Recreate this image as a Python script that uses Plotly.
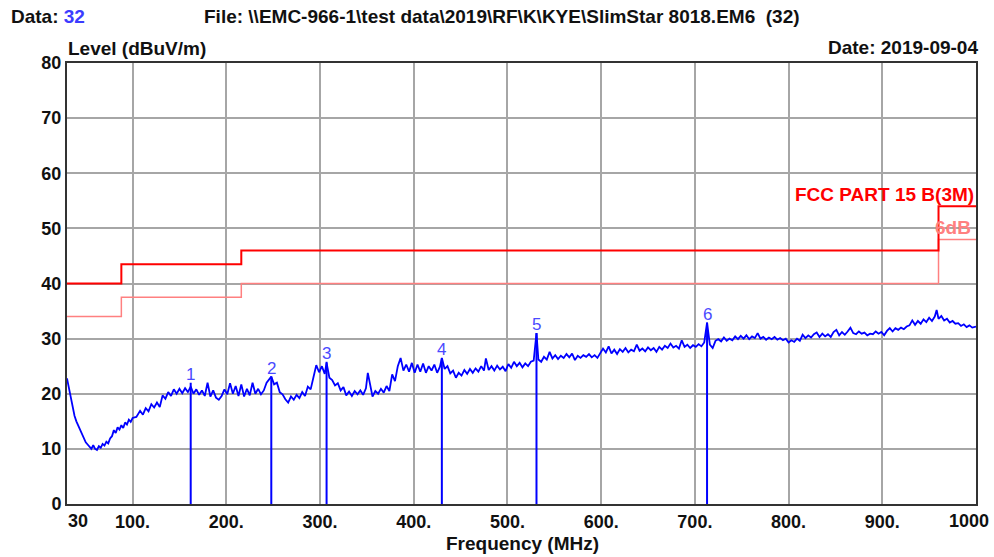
import plotly.graph_objects as go

# ---------------- data ----------------
freq_mhz = [30, 32, 34, 36, 38, 40, 42, 44, 46, 48, 50, 52, 54, 56, 58, 60, 62, 64, 66, 68,
            70, 72, 74, 76, 78, 80, 82, 84, 86, 88, 90, 92, 94, 96, 98, 100,
            104, 108, 111, 114, 117, 120, 123, 126, 129, 132, 135, 138, 141, 144, 147, 150,
            153, 156, 159, 162, 165, 168, 171, 174, 177, 180, 183, 186, 189, 192, 195, 198,
            201, 204, 207, 210, 213, 216, 219, 222, 225, 228, 231, 234, 237, 240, 243, 246,
            248, 251, 254, 257, 260, 263, 266, 269, 272, 275, 278, 281, 284, 287, 290, 293,
            296, 299, 302, 305, 307, 310, 313, 316, 319, 322, 325, 328, 331, 334, 337, 340,
            343, 346, 349, 351, 353, 356, 359, 362, 365, 368, 371, 374, 377, 380, 383, 386,
            389, 392, 395, 398, 401, 404, 407, 410, 413, 416, 419, 422, 425, 428, 430, 433,
            436, 439, 442, 445, 448, 451, 454, 457, 460, 463, 466, 469, 472, 475, 477, 480,
            483, 486, 489, 492, 495, 498, 501, 504, 507, 510, 513, 516, 519, 522, 525, 528,
            531, 533, 536, 539, 542, 545, 548, 551, 554, 557, 560, 563, 566, 569, 572, 575,
            578, 581, 584, 587, 590, 593, 596, 599, 602, 605, 608, 611, 614, 617, 620, 623,
            626, 629, 632, 635, 638, 641, 644, 647, 650, 653, 656, 659, 662, 665, 668, 671,
            674, 677, 680, 683, 686, 689, 692, 695, 698, 701, 704, 707, 710, 713, 716, 719,
            722, 725, 728, 731, 734, 737, 740, 743, 746, 749, 752, 755, 758, 761, 764, 767,
            770, 773, 776, 779, 782, 785, 788, 791, 794, 797, 800, 803, 806, 809, 812, 815,
            818, 821, 824, 827, 830, 833, 836, 839, 842, 845, 848, 851, 854, 857, 860, 863,
            866, 869, 872, 875, 878, 881, 884, 887, 890, 893, 896, 899, 902, 905, 908, 911,
            914, 917, 920, 923, 926, 929, 932, 935, 938, 941, 944, 947, 950, 953, 956, 958,
            960, 963, 966, 969, 972, 975, 978, 981, 984, 987, 990, 993, 996, 1000]

level_dbuv = [22.8, 21.0, 19.5, 17.3, 16.0, 15.0, 14.2, 13.3, 12.5, 11.8, 11.2, 10.8, 10.4, 10.0, 10.7, 10.0, 9.8, 10.5, 10.2, 10.9,
              10.6, 11.3, 11.0, 11.9, 12.3, 13.4, 12.9, 13.9, 13.5, 14.3, 13.8, 14.8, 14.4, 15.3, 14.9, 15.6,
              15.8, 16.9, 16.2, 17.4, 16.8, 18.1, 17.5, 18.4, 17.6, 19.7, 19.1, 20.3, 19.6, 20.8, 20.0, 20.9,
              20.1, 21.0, 20.3, 21.3, 20.0, 20.8, 19.8, 20.6, 19.6, 22.0, 19.5, 20.6, 19.3, 18.9, 19.6, 20.8,
              19.9, 21.9, 20.0, 21.4, 19.6, 21.7, 19.5, 20.9, 19.7, 22.0, 20.0, 20.9, 19.9, 20.6, 22.0, 22.6,
              23.1, 21.7, 22.0, 20.3, 19.9, 19.0, 18.4, 19.5, 18.9, 19.8, 19.2, 20.3, 19.6, 21.3, 20.8, 23.0,
              25.2, 23.9, 25.0, 23.6, 25.6, 22.9, 22.5, 21.5, 21.9, 20.6, 21.2, 19.7, 20.4, 19.6, 20.5, 19.9,
              20.6, 19.8, 21.0, 23.8, 22.0, 19.5, 20.5, 20.0, 20.9, 20.2, 21.4, 20.5, 23.5, 22.3, 25.0, 26.5,
              24.2, 25.3, 24.0, 25.6, 23.8, 25.3, 24.0, 25.5, 23.8, 25.0, 24.2, 25.3, 23.8, 24.9, 26.5, 24.5,
              25.0, 23.7, 24.2, 22.9, 23.8, 23.3, 24.3, 23.6, 24.5, 23.8, 24.6, 24.0, 25.0, 24.2, 26.4, 24.3,
              25.0, 24.2, 25.1, 24.4, 24.9, 24.1, 25.4, 24.7, 25.8, 25.0, 25.6, 24.8, 25.5, 25.0, 25.8, 26.0,
              31.0, 26.2, 25.8, 26.7, 26.2, 27.6, 26.4, 27.0, 26.3, 26.9, 26.5, 27.2, 26.6, 27.3, 26.1, 26.9,
              26.5, 27.0, 26.7, 27.2, 26.6, 27.0, 26.5, 27.4, 28.2, 27.5, 28.6, 27.3, 28.0, 27.2, 28.1, 27.6,
              28.3, 27.5, 28.0, 27.7, 28.9, 27.8, 28.2, 27.7, 28.4, 27.9, 28.3, 27.6, 28.5, 28.0, 28.7, 28.3,
              29.1, 28.4, 28.7, 28.2, 29.7, 28.5, 28.9, 28.3, 28.8, 28.5, 29.0, 28.6, 29.3, 32.9, 28.9, 28.3,
              29.6, 29.9, 29.5, 30.2, 29.6, 30.0, 29.7, 30.4, 29.9, 30.5, 30.0, 30.6, 29.9, 30.4, 30.1, 31.0,
              30.0, 30.3, 29.8, 30.2, 29.9, 30.3, 29.8, 30.1, 29.7, 30.0, 29.3, 29.7, 29.4, 30.0, 29.6, 30.7,
              30.1, 30.6, 30.2, 30.8, 31.1, 30.3, 30.9, 30.4, 30.8, 30.3, 31.2, 31.6, 30.6, 31.2, 30.7, 31.3,
              32.0, 31.0, 30.8, 31.3, 30.9, 31.1, 30.6, 30.9, 30.8, 31.3, 30.9, 31.2, 30.6, 31.4, 31.9, 31.3,
              31.9, 31.6, 32.0, 31.7, 32.2, 32.4, 33.3, 32.5, 33.2, 32.7, 33.5, 33.0, 33.8, 33.2, 34.0, 35.2,
              33.6, 34.1, 33.3, 33.6, 32.9, 33.2, 32.7, 32.8, 32.3, 32.6, 32.1, 32.4, 32.0, 32.2]

limit_freq = [30, 88, 216, 960, 1000]
limit_level = [40, 43.5, 46, 54, 54]
margin_level = [34, 37.5, 40, 48, 48]

marker_ids = ["1", "2", "3", "4", "5", "6"]
marker_freq = [162, 248, 307, 430, 531, 713]
marker_level = [22.0, 23.1, 25.8, 26.4, 31.0, 32.9]

x_tickvals = [30, 100, 200, 300, 400, 500, 600, 700, 800, 900, 1000]
x_ticktext = ["30", "100.", "200.", "300.", "400.", "500.", "600.", "700.", "800.", "900.", "1000"]
y_tickvals = [0, 10, 20, 30, 40, 50, 60, 70, 80]

# ---------------- figure ----------------
FONT = "Arial, 'Liberation Sans', sans-serif"
BLUE = "#0000ff"
RED = "#ff0000"
PINK = "#ff8080"

# page body margin is removed by post_script, so figure == page
W, H = 994, 557
# plot area in page pixels (reference): left 67, right 976, top 63, bottom 504
L = 67
T = 63
R = W - 976
B = H - 504
pw = W - L - R
ph = H - T - B


def px(x):
    return (x - L) / pw


def py(y):
    return (H - B - y) / ph


fig = go.Figure()

fig.add_trace(go.Scatter(x=limit_freq, y=margin_level, mode="lines", line_shape="hv",
                         line=dict(color=PINK, width=1.5), hoverinfo="skip"))
fig.add_trace(go.Scatter(x=limit_freq, y=limit_level, mode="lines", line_shape="hv",
                         line=dict(color=RED, width=2), hoverinfo="skip"))
fig.add_trace(go.Scatter(x=freq_mhz, y=level_dbuv, mode="lines",
                         line=dict(color=BLUE, width=1.8)))

for mid, mf, ml in zip(marker_ids, marker_freq, marker_level):
    fig.add_trace(go.Scatter(x=[mf, mf], y=[0, ml], mode="lines",
                             line=dict(color=BLUE, width=2), hoverinfo="skip"))
    fig.add_annotation(x=mf, y=ml, xref="x", yref="y", text=mid, showarrow=False,
                       yanchor="bottom", xanchor="center", yshift=-3,
                       font=dict(family=FONT, size=17, color="#4a4aff"))

bold = dict(family=FONT, size=19, color="#111111")

fig.add_annotation(xref="paper", yref="paper", x=px(9), y=py(17), xanchor="left", yanchor="middle",
                   text="<b>Data: <span style='color:#3c3cff'>32</span></b>", showarrow=False, font=bold)
fig.add_annotation(xref="paper", yref="paper", x=px(202), y=py(17), xanchor="left", yanchor="middle",
                   text="<b>File: \\\\EMC-966-1\\test data\\2019\\RF\\K\\KYE\\SlimStar 8018.EM6  (32)</b>",
                   showarrow=False, font=bold)
fig.add_annotation(xref="paper", yref="paper", x=px(980), y=py(47), xanchor="right", yanchor="middle",
                   text="<b>Date: 2019-09-04</b>", showarrow=False, font=bold)
fig.add_annotation(xref="paper", yref="paper", x=px(66), y=py(49), xanchor="left", yanchor="middle",
                   text="<b>Level (dBuV/m)</b>", showarrow=False, font=bold)
fig.add_annotation(xref="paper", yref="paper", x=px(522), y=py(543), xanchor="center", yanchor="middle",
                   text="<b>Frequency (MHz)</b>", showarrow=False, font=bold)
fig.add_annotation(xref="x", yref="y", x=1000, y=56.2, xanchor="right", yanchor="middle",
                   text="<b>FCC PART 15 B(3M)</b>", showarrow=False,
                   font=dict(family=FONT, size=19, color=RED))
fig.add_annotation(xref="x", yref="y", x=997, y=50.2, xanchor="right", yanchor="middle",
                   text="<b>6dB</b>", showarrow=False,
                   font=dict(family=FONT, size=19, color=PINK))

tickfont = dict(family=FONT, size=18, color="#111111")
# end tick labels placed like the reference (first left-aligned, last right-aligned)
fig.add_annotation(xref="paper", yref="paper", x=px(66), y=py(521), xanchor="left", yanchor="middle",
                   text="<b>%s</b>" % x_ticktext[0], showarrow=False, font=tickfont)
fig.add_annotation(xref="paper", yref="paper", x=px(991), y=py(521), xanchor="right", yanchor="middle",
                   text="<b>%s</b>" % x_ticktext[-1], showarrow=False, font=tickfont)

axis_common = dict(showline=True, linecolor="#333333", linewidth=2, mirror=True,
                   showgrid=True, gridcolor="#a6a6a6", gridwidth=1.5, zeroline=False,
                   ticks="", tickfont=tickfont)

mid_text = ["<b>%s</b>" % t for t in x_ticktext]
mid_text[0] = ""
mid_text[-1] = ""
fig.update_xaxes(range=[30, 1000], tickmode="array", tickvals=x_tickvals,
                 ticktext=mid_text, **axis_common)
fig.update_yaxes(range=[0, 80], tickmode="array", tickvals=y_tickvals,
                 ticktext=["<b>%d</b>" % v for v in y_tickvals], **axis_common)

fig.update_layout(width=W, height=H, margin=dict(l=L, r=R, t=T, b=B, pad=0),
                  plot_bgcolor="white", paper_bgcolor="white", showlegend=False,
                  font=dict(family=FONT))

fig.write_html("out.html", config={"displayModeBar": False},
               post_script="document.body.style.margin='0px';document.body.style.overflow='hidden';")
